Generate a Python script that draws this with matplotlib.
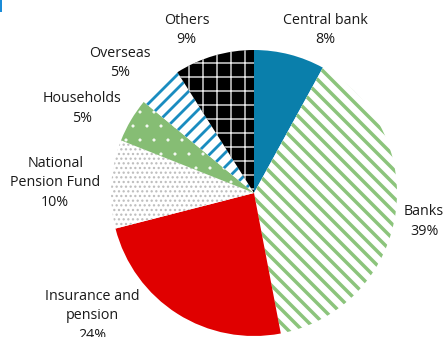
import matplotlib
matplotlib.use("Agg")
import matplotlib.pyplot as plt
from matplotlib.patches import Rectangle

# Holdings by investor type, in percent (clockwise from 12 o'clock)
categories = ["Central bank", "Banks", "Insurance and\npension", "National\nPension Fund",
              "Households", "Overseas", "Others"]
shares = [8, 39, 24, 10, 5, 5, 9]

# Fill styles per slice: face colour, hatch colour, hatch pattern, hatch width (pt)
faces = ["#0a7fab", "white", "#e00000", "white", "#86bd74", "white", "black"]
hatch_colors = ["#0a7fab", "#8cc47c", "#e00000", "#bdbdbd", "#f4f9f2", "#1a8cc0", "#e6e6e6"]
hatches = [None, "\\\\", None, "...", ".", "//", "+"]
hatch_widths = [1.0, 3.0, 1.0, 1.2, 0.2, 2.4, 1.2]

# Label anchor positions in axis units (pie radius = 1)
label_pos = [(0.50, 1.14), (1.19, -0.20), (-1.13, -0.86), (-1.39, 0.07),
             (-1.20, 0.59), (-0.94, 0.91), (-0.47, 1.14)]

DPI = 84
W, H = 447, 337
fig = plt.figure(figsize=(W / DPI, H / DPI), dpi=DPI)
ax = fig.add_axes([0, 0, 1, 1])

wedges, _ = ax.pie(shares, startangle=90, counterclock=False, radius=1.0,
                   wedgeprops=dict(linewidth=0))
for w, fc, hc, h, hw in zip(wedges, faces, hatch_colors, hatches, hatch_widths):
    w.set_facecolor(fc)
    w.set_edgecolor(hc)
    w.set_linewidth(0)
    if h:
        w.set_hatch(h)
        if hasattr(w, "set_hatch_linewidth"):
            w.set_hatch_linewidth(hw)

for name, val, (x, y) in zip(categories, shares, label_pos):
    ax.text(x, y, f"{name}\n{val}%", ha="center", va="center",
            fontsize=12.2, family="Open Sans", color="#1a1a1a", linespacing=1.4)

# Pie centre at (254, 193) px, radius 143 px
cx, cy, r = 254, 193, 143
ax.set_aspect("auto")
ax.set_xlim(-cx / r, (W - cx) / r)
ax.set_ylim((cy - H) / r, cy / r)
ax.axis("off")

# small blue mark at the top-left edge
fig.patches.append(Rectangle((0, 1 - 12 / H), 2 / W, 12 / H, transform=fig.transFigure,
                             facecolor="#1a8cd8", edgecolor="none"))

fig.savefig("out.png", dpi=DPI, facecolor="white")
